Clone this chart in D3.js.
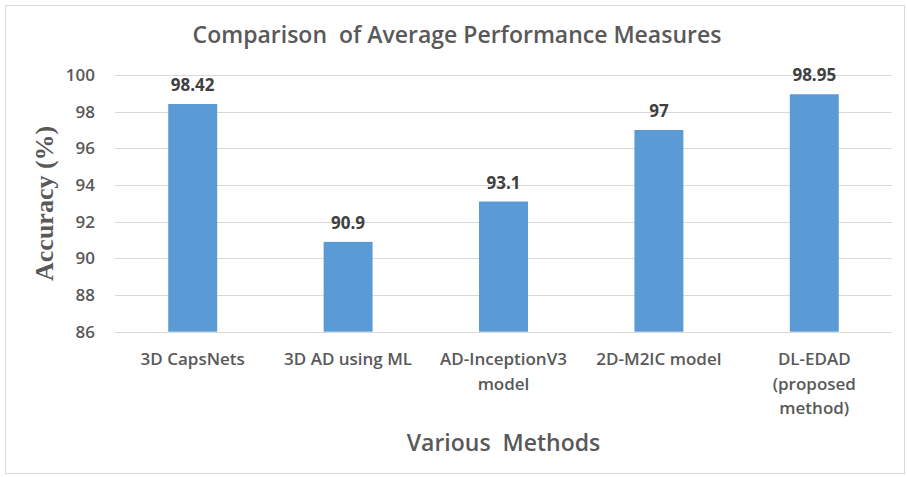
<!DOCTYPE html>
<html>
<head>
<meta charset="utf-8">
<script src="https://cdn.jsdelivr.net/npm/d3@7/dist/d3.min.js"></script>
<style>
  html, body { margin: 0; padding: 0; background: #fff; }
  svg { display: block; }
</style>
</head>
<body>
<svg id="chart" width="907" height="477"></svg>
<script>
// Methods compared and their average accuracy (%)
const methods = [
  ["3D CapsNets"],
  ["3D AD using ML"],
  ["AD-InceptionV3", "model"],
  ["2D-M2IC model"],
  ["DL-EDAD", "(proposed", "method)"]
];
const accuracy = [98.42, 90.9, 93.1, 97, 98.95];
const yTicks = [86, 88, 90, 92, 94, 96, 98, 100];

const titleText = "Comparison  of Average Performance Measures";
const xTitle = "Various  Methods";
const yTitle = "Accuracy (%)";

const sans = "'Open Sans', Lato, sans-serif";
const svg = d3.select("#chart");
const plot = { left: 115, right: 892, top: 75, bottom: 331.7 };

// outer chart frame
svg.append("rect")
  .attr("x", 5.5).attr("y", 5.5)
  .attr("width", 899).attr("height", 468)
  .attr("fill", "#fff").attr("stroke", "#d9d9d9").attr("stroke-width", 1);

const keys = methods.map((m, i) => i);
const x = d3.scaleBand().domain(keys).range([plot.left, plot.right]).paddingInner(0.685).paddingOuter(0.3425);
const y = d3.scaleLinear().domain([86, 100]).range([plot.bottom, plot.top]);

// horizontal gridlines
svg.append("g")
  .selectAll("line")
  .data(yTicks)
  .join("line")
  .attr("x1", plot.left).attr("x2", plot.right)
  .attr("y1", d => Math.round(y(d)) + 0.5).attr("y2", d => Math.round(y(d)) + 0.5)
  .attr("stroke", "#d9d9d9").attr("stroke-width", 1);

// y axis tick labels
const yAxis = d3.axisLeft(y).tickValues(yTicks).tickSize(0).tickPadding(0);
const gy = svg.append("g").attr("transform", `translate(${plot.left - 20},0)`).call(yAxis);
gy.select(".domain").remove();
gy.selectAll("text")
  .attr("font-family", sans)
  .attr("font-weight", 600)
  .attr("font-size", 17)
  .attr("fill", "#595959");

// bars
svg.append("g")
  .selectAll("rect")
  .data(accuracy)
  .join("rect")
  .attr("x", (d, i) => x(i))
  .attr("y", d => y(d))
  .attr("width", x.bandwidth())
  .attr("height", d => y(86) - y(d))
  .attr("fill", "#5b9bd5");

// value labels
svg.append("g")
  .selectAll("text")
  .data(accuracy)
  .join("text")
  .attr("x", (d, i) => x(i) + x.bandwidth() / 2)
  .attr("y", d => y(d) - 13)
  .attr("text-anchor", "middle")
  .attr("font-family", sans)
  .attr("font-weight", 700)
  .attr("font-size", 17)
  .attr("fill", "#404040")
  .text(d => d);

// category labels (multi-line)
const cat = svg.append("g")
  .selectAll("text")
  .data(methods)
  .join("text")
  .attr("x", (d, i) => x(i) + x.bandwidth() / 2)
  .attr("y", 365)
  .attr("text-anchor", "middle")
  .attr("font-family", sans)
  .attr("font-weight", 600)
  .attr("font-size", 17)
  .attr("fill", "#595959");
cat.selectAll("tspan")
  .data(d => d)
  .join("tspan")
  .attr("x", function () { return d3.select(this.parentNode).attr("x"); })
  .attr("dy", (d, i) => i === 0 ? 0 : 24.5)
  .text(d => d);

// chart title
svg.append("text")
  .attr("x", 457).attr("y", 43)
  .attr("text-anchor", "middle")
  .attr("font-family", sans)
  .attr("font-weight", 600)
  .attr("font-size", 23)
  .attr("fill", "#595959")
  .style("white-space", "pre")
  .text(titleText);

// x axis title
svg.append("text")
  .attr("x", (plot.left + plot.right) / 2).attr("y", 451)
  .attr("text-anchor", "middle")
  .attr("font-family", sans)
  .attr("font-weight", 600)
  .attr("font-size", 23)
  .attr("fill", "#595959")
  .style("white-space", "pre")
  .text(xTitle);

// y axis title
svg.append("text")
  .attr("transform", `translate(53,${(plot.top + plot.bottom) / 2}) rotate(-90)`)
  .attr("text-anchor", "middle")
  .attr("font-family", "'Liberation Serif', 'Times New Roman', serif")
  .attr("font-weight", "bold")
  .attr("font-size", 26)
  .attr("fill", "#595959")
  .text(yTitle);
</script>
</body>
</html>
